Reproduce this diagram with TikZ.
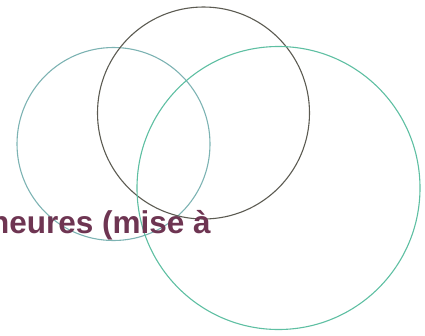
\documentclass[tikz,border=0pt]{standalone}
\usepackage{fontspec}
\setmainfont{Liberation Sans}
\usetikzlibrary{positioning}

\definecolor{tealgrey}{HTML}{7DB3B3}
\definecolor{tealgreen}{HTML}{5EBFA2}
\definecolor{olivegrey}{HTML}{5C5B52}
\definecolor{maroon}{HTML}{6E3552}

\begin{document}
\begin{tikzpicture}[x=1pt,y=1pt]

\useasboundingbox (0,0) rectangle (425,-335);
\clip (0,0) rectangle (425,-335);

\node (left) [circle,draw=tealgrey,line width=1.1pt,minimum size=193pt,inner sep=0pt] at (113.5,-144) {};
\node (top) [circle,draw=olivegrey,line width=1.1pt,minimum size=212pt,inner sep=0pt] at (203.5,-113) {};
\node (right) [circle,draw=tealgreen,line width=1.1pt,minimum size=283pt,inner sep=0pt] at (278.5,-188) {};

\node (label) [anchor=base east,inner sep=0pt,text=maroon,font=\bfseries\fontsize{31.5}{36}\selectfont] at (211,-233) {heures (mise à};

\end{tikzpicture}
\end{document}
